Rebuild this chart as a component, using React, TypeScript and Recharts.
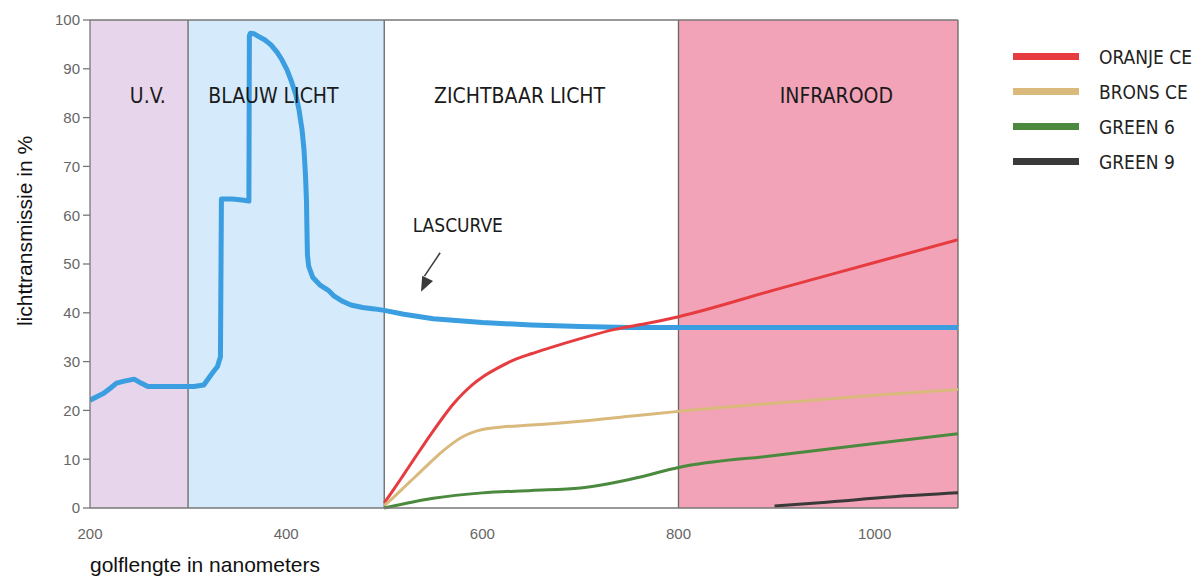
import {
    ComposedChart,
    Line,
    XAxis,
    YAxis,
    ReferenceArea,
    ReferenceLine,
    ReferenceDot,
    Legend,
} from "recharts";

// wavelength (nm) / transmission (%)
const lasCurve = [
    [200, 22.1], [214, 23.5], [221, 24.6], [227, 25.6], [235, 26], [245, 26.4],
    [252, 25.6], [259, 24.9], [306, 24.9], [316, 25.2], [325, 27.7], [330, 29],
    [333, 31], [334, 63.3], [345, 63.3], [355, 63.1], [362, 62.9], [362.5, 96.8],
    [363.5, 97.3], [367, 97.2], [371.3, 96.7], [378.4, 95.9], [384.5, 94.9],
    [390.7, 93.4], [395.8, 91.8], [400.9, 89.8], [404.9, 87.7], [410, 84.6],
    [413.1, 81.6], [416.2, 77.5], [418.2, 73.4], [419.7, 68.2], [420.7, 63.1],
    [421.2, 57], [421.7, 51.8], [423, 49.5], [427, 47.3], [435, 45.6],
    [443, 44.6], [449, 43.4], [458, 42.3], [466, 41.6], [478, 41.1], [490, 40.8],
    [500, 40.5], [520, 39.7], [550, 38.8], [600, 38], [650, 37.5], [700, 37.2],
    [750, 37], [800, 37], [900, 37], [1000, 37], [1085, 37],
];
const oranjeCe = [
    [500, 1], [510, 3.9], [520, 6.9], [530, 9.9], [540, 12.9], [550, 15.8],
    [560, 18.6], [570, 21.2], [580, 23.4], [590, 25.3], [600, 26.8], [615, 28.6],
    [633, 30.4], [650, 31.6], [667, 32.7], [700, 34.7], [735, 36.6], [770, 37.9],
    [800, 39.2], [900, 44.8], [1000, 50.3], [1085, 55],
];
const bronsCe = [
    [500, 0.5], [510, 2.3], [520, 4.2], [530, 6.1], [540, 8], [550, 9.9],
    [560, 11.7], [570, 13.3], [580, 14.6], [590, 15.5], [600, 16.1], [620, 16.6],
    [650, 17], [700, 17.8], [750, 18.8], [800, 19.8], [900, 21.5], [1000, 23.1],
    [1085, 24.3],
];
const green6 = [
    [500, 0], [550, 2], [600, 3.1], [650, 3.6], [700, 4.1], [730, 5],
    [760, 6.3], [800, 8.3], [900, 10.8], [1000, 13.2], [1085, 15.2],
];
const green9 = [
    [898, 0.4], [951, 1.2], [1019, 2.3], [1085, 3.1],
];

const bandNames = ["U.V.", "BLAUW LICHT", "ZICHTBAAR LICHT", "INFRAROOD"];
const bandEdges = [200, 300, 500, 800, 1085];
const bandColors = ["#e7d5eb", "#d5eafa", "#ffffff", "#f2a3b7"];
// where the band titles sit (nm, %)
const bandLabelAt = [[259, 84.6], [387, 84.6], [638, 84.6], [961, 84.6]];

const xTicks = [200, 400, 600, 800, 1000];
const yTicks = [0, 10, 20, 30, 40, 50, 60, 70, 80, 90, 100];

const toPoints = (rows: number[][]) => rows.map(([nm, t]) => ({ nm, t }));

const series = [
    { name: "ORANJE CE", rows: oranjeCe, color: "#e63c40" },
    { name: "BRONS CE", rows: bronsCe, color: "#d9b97c" },
    { name: "GREEN 6", rows: green6, color: "#4b8a3e" },
    { name: "GREEN 9", rows: green9, color: "#3a3a3a" },
];

const capsFont = "'Liberation Sans Narrow', 'DejaVu Sans Condensed', sans-serif";
const bodyFont = "'Liberation Sans', Arial, sans-serif";

const ArrowHead = (props: any) => {
    const { cx, cy } = props;
    const a = Math.atan2(39, -19);
    const len = 15;
    const w = 6;
    const bx = cx - Math.cos(a) * len;
    const by = cy - Math.sin(a) * len;
    const px = -Math.sin(a) * w;
    const py = Math.cos(a) * w;
    return (
        <polygon
            points={`${cx},${cy} ${bx + px},${by + py} ${bx - px},${by - py}`}
            fill="#3a3a3a"
        />
    );
};

// legend in the same order as the reference, not sorted
const renderLegend = () => (
    <div style={{ fontFamily: capsFont, fontSize: 19, color: "#222" }}>
        {series.map((s) => (
            <div
                key={s.name}
                style={{ display: "flex", alignItems: "center", height: 35 }}
            >
                <span
                    style={{
                        display: "inline-block",
                        width: 66,
                        height: 7,
                        background: s.color,
                        marginRight: 20,
                    }}
                />
                {s.name}
            </div>
        ))}
    </div>
);

export default function App() {
    return (
        <div
            style={{
                position: "absolute",
                left: 0,
                top: 0,
                width: 1201,
                height: 580,
                background: "#fff",
            }}
        >
            <ComposedChart
                width={1201}
                height={580}
                margin={{ top: 20, right: 243, bottom: 8, left: 40 }}
            >
                {bandNames.map((name, i) => (
                    <ReferenceArea
                        key={name}
                        x1={bandEdges[i]}
                        x2={bandEdges[i + 1]}
                        y1={0}
                        y2={100}
                        fill={bandColors[i]}
                        fillOpacity={1}
                        stroke="none"
                    />
                ))}
                {bandEdges.slice(1).map((e) => (
                    <ReferenceLine key={e} x={e} stroke="#666" strokeWidth={1.3} />
                ))}
                <ReferenceLine y={100} stroke="#777" strokeWidth={1.3} />

                <XAxis
                    type="number"
                    dataKey="nm"
                    domain={[200, 1085]}
                    allowDataOverflow
                    ticks={xTicks}
                    height={64}
                    tickLine={false}
                    tickSize={4}
                    tickMargin={16}
                    stroke="#777"
                    strokeWidth={1.3}
                    tick={{ fill: "#666", fontSize: 15, fontFamily: bodyFont }}
                    label={{
                        value: "golflengte in nanometers",
                        position: "insideBottomLeft",
                        offset: 0,
                        fill: "#111",
                        fontSize: 21,
                        fontFamily: bodyFont,
                    }}
                />
                <YAxis
                    type="number"
                    dataKey="t"
                    domain={[0, 100]}
                    ticks={yTicks}
                    width={50}
                    tickSize={7}
                    tickMargin={3}
                    stroke="#777"
                    strokeWidth={1.3}
                    tick={{ fill: "#666", fontSize: 15, fontFamily: bodyFont }}
                />

                {bandNames.map((name, i) => (
                    <ReferenceDot
                        key={"lbl" + name}
                        x={bandLabelAt[i][0]}
                        y={bandLabelAt[i][1]}
                        r={0}
                        stroke="none"
                        fill="none"
                        label={{
                            value: name,
                            position: "center",
                            fill: "#1a1a1a",
                            fontSize: 21,
                            fontFamily: capsFont,
                        }}
                    />
                ))}

                <ReferenceDot
                    x={575}
                    y={58}
                    r={0}
                    stroke="none"
                    fill="none"
                    label={{
                        value: "LASCURVE",
                        position: "center",
                        fill: "#1a1a1a",
                        fontSize: 19,
                        fontFamily: capsFont,
                    }}
                />
                <ReferenceLine
                    segment={[
                        { x: 557, y: 52.3 },
                        { x: 541, y: 47.5 },
                    ]}
                    stroke="#3a3a3a"
                    strokeWidth={1.5}
                />
                <ReferenceDot x={537.5} y={44.3} r={6} shape={ArrowHead} />

                <Line
                    data={toPoints(lasCurve)}
                    dataKey="t"
                    name="LASCURVE"
                    type="linear"
                    stroke="#3a9ee0"
                    strokeWidth={5}
                    strokeLinejoin="round"
                    dot={false}
                    legendType="none"
                    isAnimationActive={false}
                />
                {series.map((s) => (
                    <Line
                        key={s.name}
                        data={toPoints(s.rows)}
                        dataKey="t"
                        name={s.name}
                        type="monotone"
                        stroke={s.color}
                        strokeWidth={3}
                        dot={false}
                        isAnimationActive={false}
                    />
                ))}

                <Legend
                    layout="vertical"
                    align="center"
                    verticalAlign="middle"
                    content={renderLegend}
                    wrapperStyle={{ left: 1013, top: 39, width: 188 }}
                />
            </ComposedChart>

            <div
                style={{
                    position: "absolute",
                    left: 25,
                    top: 231,
                    transform: "translate(-50%, -50%) rotate(-90deg)",
                    whiteSpace: "nowrap",
                    fontFamily: bodyFont,
                    fontSize: 21,
                    color: "#111",
                }}
            >
                lichttransmissie in %
            </div>
        </div>
    );
}
